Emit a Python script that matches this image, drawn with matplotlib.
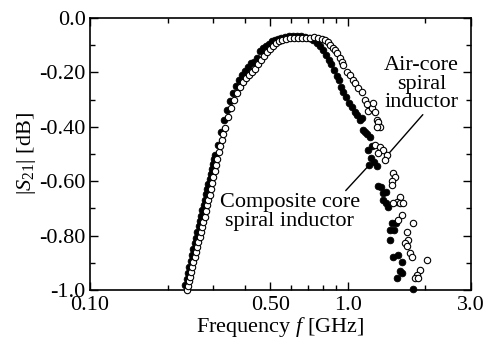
import matplotlib
matplotlib.use("Agg")
import matplotlib.pyplot as plt
from matplotlib.ticker import FixedLocator, FixedFormatter, NullFormatter

plt.rcParams['font.family'] = ['Liberation Serif', 'DejaVu Serif']
plt.rcParams['mathtext.fontset'] = 'custom'
plt.rcParams['mathtext.rm'] = 'Liberation Serif'
plt.rcParams['mathtext.it'] = 'Liberation Serif:italic'

# composite core spiral inductor (filled)
comp_f = [0.234, 0.237, 0.240, 0.243, 0.246, 0.249, 0.252, 0.255, 0.258, 0.261,
          0.264, 0.267, 0.270, 0.273, 0.276, 0.279, 0.282, 0.285, 0.288, 0.291,
          0.294, 0.297, 0.300, 0.303, 0.306, 0.3135, 0.322, 0.3307, 0.3398, 0.349,
          0.3585, 0.3683, 0.3783, 0.3885, 0.399, 0.410, 0.421, 0.4324, 0.444, 0.456,
          0.469, 0.481, 0.4945, 0.508, 0.522, 0.536, 0.550, 0.570, 0.591, 0.6125,
          0.635, 0.658, 0.682, 0.707, 0.732,
          0.759, 0.779, 0.801, 0.822, 0.845, 0.860, 0.883, 0.9075, 0.924, 0.940,
          0.957, 0.983, 1.010, 1.037, 1.065, 1.085, 1.114, 1.134, 1.144, 1.165,
          1.186, 1.218, 1.197, 1.240, 1.229, 1.262, 1.297, 1.207, 1.308, 1.344,
          1.368, 1.405, 1.368, 1.405, 1.430, 1.483, 1.537, 1.456, 1.510, 1.456,
          1.496, 1.565, 1.621, 1.592, 1.621, 1.550, 1.788]
comp_db = [-0.982, -0.959, -0.937, -0.914, -0.893, -0.871, -0.849, -0.828, -0.807, -0.787,
           -0.766, -0.746, -0.726, -0.706, -0.687, -0.667, -0.648, -0.629, -0.610, -0.592,
           -0.574, -0.555, -0.537, -0.520, -0.502, -0.467, -0.419, -0.375, -0.338, -0.305,
           -0.276, -0.250, -0.228, -0.210, -0.195, -0.180, -0.165, -0.162, -0.147, -0.121,
           -0.110, -0.103, -0.096, -0.085, -0.080, -0.076, -0.073, -0.070, -0.068, -0.067,
           -0.067, -0.068, -0.070, -0.073, -0.080,
           -0.092, -0.103, -0.118, -0.136, -0.154, -0.169, -0.191, -0.213, -0.228, -0.254,
           -0.272, -0.290, -0.3125, -0.327, -0.346, -0.357, -0.375, -0.368, -0.412, -0.419,
           -0.426, -0.4375, -0.485, -0.471, -0.515, -0.529, -0.544, -0.540, -0.618, -0.621,
           -0.643, -0.640, -0.669, -0.680, -0.695, -0.754, -0.754, -0.779, -0.779, -0.816,
           -0.879, -0.871, -0.897, -0.930, -0.9375, -0.956, -0.996]

# air-core spiral inductor (open)
air_f = [0.2377, 0.240, 0.242, 0.2442, 0.2464, 0.2493, 0.252, 0.2549, 0.2576, 0.2606,
         0.2634, 0.2665, 0.2694, 0.2725, 0.2755, 0.2787, 0.2817, 0.2849, 0.288, 0.2913,
         0.2946, 0.298, 0.3012, 0.3047, 0.308, 0.3121, 0.3163, 0.3206, 0.3249, 0.3293,
         0.3338, 0.3428, 0.3522, 0.3618, 0.3715, 0.3816, 0.392, 0.4026, 0.4135, 0.4248,
         0.4364, 0.4481, 0.4603, 0.4728, 0.4857, 0.4988, 0.5124, 0.5263, 0.5406, 0.5554,
         0.5754, 0.5963, 0.618, 0.6405, 0.6637, 0.6879, 0.7129, 0.7388,
         0.7656, 0.7935, 0.815, 0.837, 0.852, 0.875, 0.891, 0.9075, 0.932, 0.949,
         0.957, 0.992, 1.019, 1.047, 1.065, 1.095, 1.134, 1.165, 1.186, 1.197,
         1.240, 1.251, 1.274, 1.297, 1.308, 1.332, 1.297, 1.274, 1.332, 1.368,
         1.308, 1.418, 1.393, 1.496, 1.523, 1.483, 1.483, 1.592, 1.550, 1.592,
         1.636, 1.496, 1.621, 1.565, 1.788, 1.695, 1.710, 1.665, 1.695, 1.741,
         1.773, 2.027, 1.904, 1.853, 1.820, 1.870]
air_db = [-1.000, -0.983, -0.967, -0.950, -0.934, -0.915, -0.897, -0.879, -0.860, -0.842,
          -0.824, -0.805, -0.787, -0.768, -0.750, -0.730, -0.710, -0.689, -0.669, -0.649,
          -0.629, -0.607, -0.585, -0.5625, -0.540, -0.5165, -0.493, -0.471, -0.449, -0.426,
          -0.404, -0.364, -0.331, -0.301, -0.276, -0.254, -0.235, -0.221, -0.210, -0.199,
          -0.1875, -0.169, -0.154, -0.140, -0.125, -0.114, -0.103, -0.092, -0.085, -0.081,
          -0.077, -0.0735, -0.0735, -0.0735, -0.0735, -0.0735, -0.0735, -0.070,
          -0.0735, -0.077, -0.081, -0.088, -0.099, -0.110, -0.118, -0.129, -0.147, -0.162,
          -0.173, -0.199, -0.210, -0.228, -0.239, -0.257, -0.272, -0.301, -0.316, -0.342,
          -0.331, -0.3125, -0.346, -0.375, -0.382, -0.401, -0.401, -0.467, -0.474, -0.485,
          -0.496, -0.504, -0.522, -0.570, -0.585, -0.599, -0.614, -0.658, -0.676, -0.680,
          -0.680, -0.680, -0.724, -0.743, -0.754, -0.787, -0.816, -0.827, -0.838, -0.864,
          -0.879, -0.890, -0.926, -0.945, -0.956, -0.956]

x_major = [0.1, 0.5, 1.0, 3.0]
x_major_labels = ['0.10', '0.50', '1.0', '3.0']
x_minor = [0.2, 0.3, 0.4, 0.6, 0.7, 0.8, 0.9, 2.0]
y_major = [0.0, -0.2, -0.4, -0.6, -0.8, -1.0]
y_major_labels = ['0.0', '-0.20', '-0.40', '-0.60', '-0.80', '-1.0']
y_minor = [-0.1, -0.3, -0.5, -0.7, -0.9]

fig = plt.figure(figsize=(4.89, 3.45), dpi=100)
ax = fig.add_axes([0.184, 0.159, 0.779, 0.789])

ax.plot(comp_f, comp_db, 'o', ms=4.8, mfc='black', mec='black', mew=0.6,
        clip_on=False, zorder=3)
ax.plot(air_f, air_db, 'o', ms=4.6, mfc='white', mec='black', mew=0.8,
        clip_on=False, zorder=4)

ax.set_xscale('log')
ax.set_xlim(0.1, 3.0)
ax.set_ylim(-1.0, 0.0)

ax.xaxis.set_major_locator(FixedLocator(x_major))
ax.xaxis.set_major_formatter(FixedFormatter(x_major_labels))
ax.xaxis.set_minor_locator(FixedLocator(x_minor))
ax.xaxis.set_minor_formatter(NullFormatter())
ax.yaxis.set_major_locator(FixedLocator(y_major))
ax.yaxis.set_major_formatter(FixedFormatter(y_major_labels))
ax.yaxis.set_minor_locator(FixedLocator(y_minor))

ax.tick_params(which='both', direction='in', top=True, right=True, width=1.0,
               labelsize=16)
ax.tick_params(which='major', length=5.8)
ax.tick_params(which='minor', length=3.6)
ax.tick_params(axis='x', pad=4)
ax.tick_params(axis='y', pad=3)
for s in ax.spines.values():
    s.set_linewidth(1.2)

ax.set_xlabel('Frequency $f$ [GHz]', fontsize=16, labelpad=0)
ax.set_ylabel(r'$|S_{\rm 21}|$ [dB]', fontsize=16, labelpad=1)

ax.annotate('Air-core\nspiral\ninductor', xy=(1.435, -0.50), xytext=(1.93, -0.243),
            ha='center', va='center', fontsize=16, linespacing=0.95,
            arrowprops=dict(arrowstyle='-', color='black', lw=1.0,
                            shrinkA=0, shrinkB=0,
                            relpos=(0.55, 0.0)))
ax.annotate('Composite core\nspiral inductor', xy=(1.19, -0.548), xytext=(0.596, -0.713),
            ha='center', va='center', fontsize=16, linespacing=0.95,
            arrowprops=dict(arrowstyle='-', color='black', lw=1.0,
                            shrinkA=0, shrinkB=0,
                            relpos=(0.88, 1.0)))

fig.savefig('out.png', dpi=100)
